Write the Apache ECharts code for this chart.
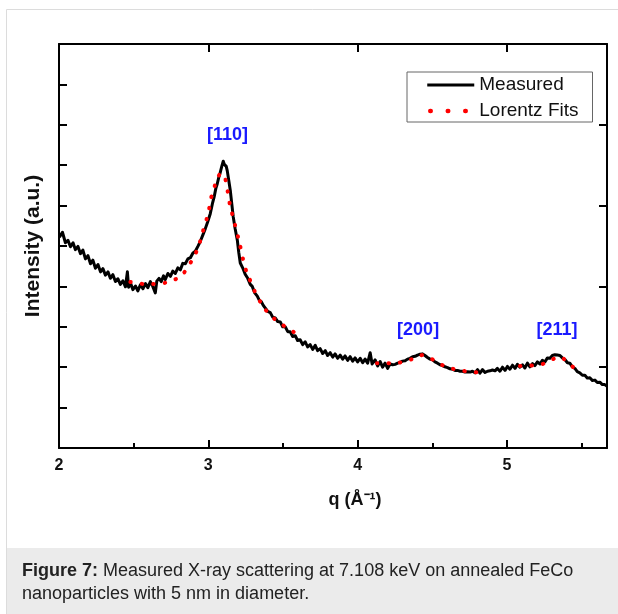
<!DOCTYPE html>
<html>
<head>
<meta charset="utf-8">
<script src="https://cdn.jsdelivr.net/npm/echarts@6/dist/echarts.min.js"></script>
<style>
html,body{margin:0;padding:0;background:#fff;}
#c{width:618px;height:614px;}
</style>
</head>
<body>
<div id="c"></div>
<script>
// ---- data ----
const measQ = [2.003,2.023,2.043,2.060,2.077,2.094,2.110,2.127,2.144,2.160,2.177,2.194,2.211,2.227,2.244,2.261,2.278,2.294,2.311,2.328,2.344,2.361,2.378,2.394,2.411,2.428,2.445,2.458,2.466,2.480,2.495,2.512,2.528,2.545,2.562,2.579,2.595,2.612,2.628,2.645,2.655,2.670,2.685,2.700,2.712,2.729,2.746,2.762,2.779,2.796,2.813,2.829,2.846,2.863,2.880,2.896,2.913,2.930,2.946,2.963,2.980,2.996,3.013,3.027,3.040,3.050,3.060,3.070,3.080,3.090,3.100,3.107,3.114,3.120,3.127,3.137,3.147,3.157,3.167,3.180,3.194,3.204,3.214,3.230,3.247,3.264,3.281,3.294,3.311,3.328,3.341,3.355,3.368,3.381,3.398,3.415,3.431,3.448,3.465,3.482,3.498,3.515,3.532,3.548,3.565,3.582,3.598,3.615,3.632,3.649,3.665,3.682,3.699,3.716,3.732,3.749,3.766,3.783,3.799,3.816,3.833,3.849,3.866,3.883,3.900,3.916,3.933,3.950,3.967,3.983,4.000,4.017,4.034,4.050,4.067,4.084,4.097,4.117,4.134,4.151,4.167,4.184,4.201,4.217,4.234,4.251,4.268,4.284,4.301,4.318,4.334,4.351,4.368,4.385,4.401,4.418,4.435,4.451,4.468,4.485,4.502,4.518,4.535,4.552,4.569,4.585,4.602,4.619,4.636,4.652,4.669,4.686,4.702,4.719,4.736,4.753,4.769,4.786,4.803,4.819,4.836,4.853,4.870,4.886,4.903,4.920,4.936,4.953,4.970,4.987,5.003,5.020,5.037,5.054,5.070,5.087,5.104,5.120,5.137,5.154,5.171,5.187,5.204,5.221,5.237,5.254,5.271,5.288,5.304,5.321,5.338,5.355,5.371,5.388,5.405,5.421,5.438,5.455,5.471,5.488,5.505,5.522,5.538,5.555,5.572,5.589,5.605,5.622,5.639,5.655,5.669];
const measI = [5.22,5.34,5.08,5.14,4.98,5.08,4.91,4.99,4.81,4.90,4.68,4.76,4.56,4.65,4.45,4.54,4.36,4.44,4.28,4.36,4.20,4.29,4.12,4.19,4.05,4.14,3.99,4.36,3.98,4.07,3.92,4.01,3.89,4.04,3.94,4.07,3.97,4.12,4.00,3.84,4.13,4.20,4.12,4.26,4.17,4.32,4.25,4.38,4.32,4.46,4.41,4.57,4.56,4.68,4.71,4.82,4.87,4.99,5.11,5.27,5.43,5.60,5.80,6.04,6.23,6.42,6.54,6.70,6.82,6.97,7.10,7.02,6.98,6.97,6.86,6.62,6.38,6.05,5.72,5.42,5.15,4.84,4.58,4.46,4.30,4.20,4.05,4.00,3.84,3.76,3.66,3.62,3.53,3.50,3.38,3.35,3.24,3.22,3.13,3.12,3.00,3.00,2.88,2.88,2.76,2.78,2.66,2.68,2.56,2.63,2.50,2.56,2.44,2.54,2.41,2.46,2.34,2.41,2.29,2.36,2.25,2.33,2.22,2.30,2.20,2.28,2.17,2.26,2.15,2.23,2.13,2.22,2.11,2.20,2.10,2.36,2.08,2.18,2.03,2.14,2.00,2.10,1.97,2.08,2.06,2.07,2.10,2.12,2.15,2.16,2.20,2.22,2.26,2.27,2.30,2.32,2.33,2.29,2.24,2.20,2.18,2.13,2.10,2.06,2.04,2.01,1.99,1.96,1.95,1.92,1.92,1.90,1.90,1.88,1.89,1.88,1.90,1.86,1.94,1.85,1.94,1.87,1.90,1.91,1.93,1.91,1.97,1.90,2.00,1.92,2.02,1.95,2.05,1.97,2.07,2.00,2.06,1.98,2.10,2.01,2.09,2.04,2.13,2.08,2.17,2.13,2.23,2.22,2.29,2.31,2.30,2.29,2.23,2.19,2.11,2.10,2.01,1.97,1.89,1.86,1.80,1.80,1.73,1.74,1.67,1.68,1.62,1.63,1.57,1.57,1.53];

const fit1Q = [2.478,2.535,2.592,2.650,2.699,2.750,2.806,2.850,2.880,2.910,2.933,2.950,2.967,2.985,3.000,3.020,3.040,3.054,3.070,3.087,3.104,3.120,3.140,3.167,3.194,3.221,3.247,3.288,3.334,3.395,3.482,3.582];
const fit1I = [4.11,4.07,4.06,4.06,4.08,4.14,4.23,4.40,4.58,4.78,4.98,5.18,5.40,5.62,5.82,6.21,6.45,6.61,6.74,6.80,6.74,6.56,6.11,5.69,5.30,4.88,4.46,4.08,3.71,3.37,3.09,2.85];
const fit2Q = [4.130,4.217,4.304,4.398,4.438,4.498,4.552,4.619,4.706,4.773,4.839];
const fit2I = [2.10,2.10,2.13,2.25,2.30,2.20,2.08,1.98,1.91,1.88,1.86];
const fit3Q = [5.087,5.201,5.308,5.355,5.401,5.488];
const fit3I = [2.03,2.05,2.20,2.25,2.13,1.86];

const peakLabels = ['[110]','[200]','[211]'];
const peakQ = [3.128, 4.405, 5.335];
const peakI = [7.75, 2.92, 2.92];

const xTicks = [2,3,4,5];
const seriesNames = ['Measured','Lorentz Fits'];

// ---- chart ----
const FONT = "'Liberation Sans', Arial, Helvetica, sans-serif";
const zip = (a,b) => a.map((v,i)=>[v,b[i]]);
const chart = echarts.init(document.getElementById('c'), null, {renderer:'canvas'});

const fitStyle = {color:'#ff0000', width:4, type:[0.5,11], cap:'round'};
function fitSeries(q, I){
  return {name:seriesNames[1], type:'line', xAxisIndex:0, yAxisIndex:0, data:zip(q,I),
    symbol:'none', smooth:true, lineStyle:fitStyle, itemStyle:{color:'#ff0000'}, z:5};
}

const axisBase = {
  axisLine:{show:true, onZero:false, lineStyle:{color:'#000', width:2}},
  splitLine:{show:false}
};

chart.setOption({
  animation:false,
  backgroundColor:'#fff',
  grid:{left:59, right:11, top:44, bottom:166},
  legend:{
    left:407, top:72, orient:'vertical',
    data:[
      {name:seriesNames[0], lineStyle:{color:'#000', width:3, type:'solid'}},
      {name:seriesNames[1], lineStyle:{color:'#ff0000', width:4.5, type:[0.5,17], cap:'round', dashOffset:-3}}
    ],
    itemWidth:47, itemHeight:14, itemGap:6, padding:[3,14,1,18],
    borderColor:'#666', borderWidth:1, borderRadius:0,
    itemStyle:{opacity:0, borderWidth:0},
    textStyle:{fontSize:19, color:'#111', fontFamily:FONT, lineHeight:20}
  },
  xAxis:[
    Object.assign({}, axisBase, {type:'value', min:xTicks[0], max:5.67, interval:1, position:'bottom',
      axisTick:{show:true, inside:true, length:8, lineStyle:{color:'#000', width:2}},
      minorTick:{show:true, splitNumber:2, length:5, lineStyle:{color:'#000', width:2}},
      axisLabel:{show:true, fontSize:16, fontWeight:'bold', color:'#111', margin:10, fontFamily:FONT, showMaxLabel:false,
        formatter:v=> xTicks.indexOf(v)>=0 ? String(v) : ''}}),
    Object.assign({}, axisBase, {type:'value', min:xTicks[0], max:5.67, interval:1, position:'top',
      axisTick:{show:true, inside:true, length:8, lineStyle:{color:'#000', width:2}},
      axisLabel:{show:false}})
  ],
  yAxis:[
    Object.assign({}, axisBase, {type:'value', min:0, max:10, interval:1, position:'left',
      axisTick:{show:true, inside:true, length:8, lineStyle:{color:'#000', width:2}},
      axisLabel:{show:false}}),
    Object.assign({}, axisBase, {type:'value', min:0, max:10, interval:2, position:'right',
      axisTick:{show:true, inside:true, length:8, lineStyle:{color:'#000', width:2}},
      axisLabel:{show:false}})
  ],
  series:[
    {name:seriesNames[0], type:'line', data:zip(measQ, measI), symbol:'none',
      lineStyle:{color:'#000', width:3, join:'round'}, itemStyle:{color:'#000'}, z:3,
      markPoint:{symbol:'rect', symbolSize:1, itemStyle:{color:'rgba(0,0,0,0)'},
        label:{show:true, position:'inside', formatter:p=>p.name, color:'#1a1aff', fontSize:18, fontWeight:'bold', fontFamily:FONT},
        data: peakLabels.map((n,i)=>({name:n, coord:[peakQ[i], peakI[i]]}))}},
    fitSeries(fit1Q, fit1I),
    fitSeries(fit2Q, fit2I),
    fitSeries(fit3Q, fit3I)
  ],
  graphic:[
    {type:'rect', z:-10, silent:true, shape:{x:6.5, y:9.5, width:700, height:700}, style:{fill:'none', stroke:'#dcdcdc', lineWidth:1}},
    {type:'rect', z:-9, silent:true, shape:{x:7, y:548, width:611, height:66}, style:{fill:'#ebebeb'}},
    {type:'text', silent:true, x:22, y:559.5, style:{
      text:'{b|Figure 7:} Measured X-ray scattering at 7.108 keV on annealed FeCo\nnanoparticles with 5 nm in diameter.',
      fontSize:18, fontFamily:FONT, fill:'#222', lineHeight:23,
      rich:{b:{fontWeight:'bold', fontSize:18, fontFamily:FONT, fill:'#222', lineHeight:23}}}},
    {type:'text', silent:true, x:355, y:500, style:{text:'q (Å\u207B\u00B9)', fontSize:18, fontWeight:'bold', fontFamily:FONT, fill:'#111', textAlign:'center', textVerticalAlign:'middle'}},
    {type:'text', silent:true, x:33, y:246, rotation:Math.PI/2, style:{text:'Intensity (a.u.)', fontSize:21, fontWeight:'bold', fontFamily:FONT, fill:'#111', textAlign:'center', textVerticalAlign:'middle'}}
  ]
});
</script>
</body>
</html>
